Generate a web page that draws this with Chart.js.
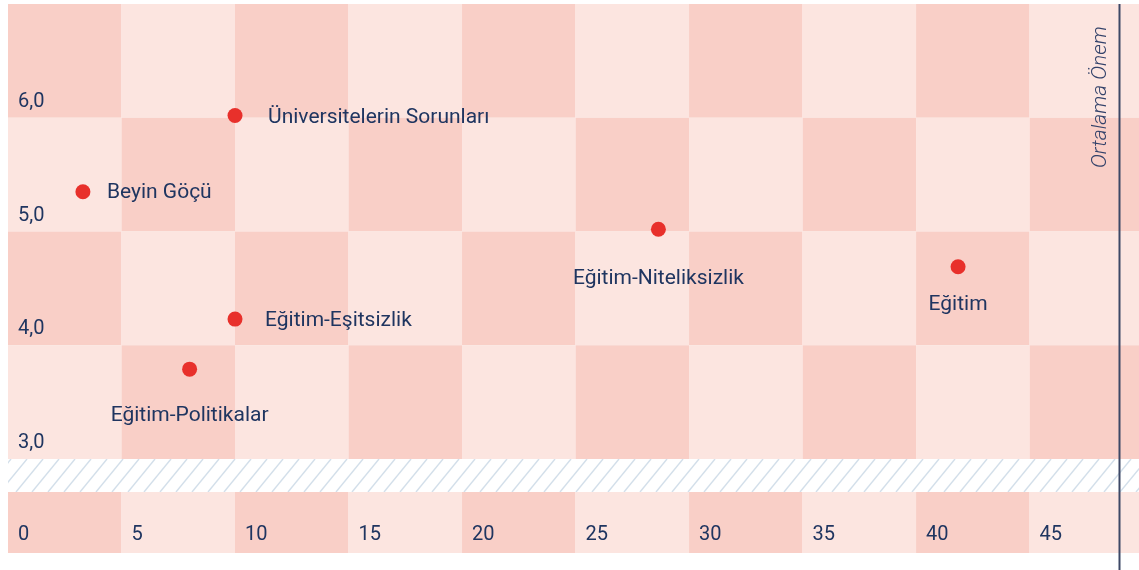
<!DOCTYPE html>
<html>
<head>
<meta charset="utf-8">
<script src="https://cdn.jsdelivr.net/npm/chart.js@4.4.1/dist/chart.umd.min.js"></script>
<style>
  html, body { margin: 0; padding: 0; background: #fff; }
</style>
</head>
<body>
<canvas id="gundem" width="1139" height="570"></canvas>
<script>
// topics: how often mentioned (x) vs. how important (y)
const topics = ['Beyin Göçü', 'Üniversitelerin Sorunları', 'Eğitim-Eşitsizlik', 'Eğitim-Politikalar', 'Eğitim-Niteliksizlik', 'Eğitim'];
const frequency = [3.3, 10.0, 10.0, 8.0, 28.65, 41.85];
const importance = [5.35, 6.02, 4.23, 3.79, 5.02, 4.69];
const xTicks = [0, 5, 10, 15, 20, 25, 30, 35, 40, 45];
const yTicks = [3, 4, 5, 6];
const averageLine = 49;
const averageLabel = 'Ortalama Önem';

// where each name sits next to its dot: [side, dx, dy] in px
const labelPlace = [
  ['right', 24, 6.6],
  ['right', 33, 7.3],
  ['right', 30, 7.4],
  ['below', 0, 51.4],
  ['below', 0, 55],
  ['below', 0, 43.7]
];

const DARK = '#f9cfc7';
const LIGHT = '#fce5e0';
const INK = '#1f3560';
const DOT = '#e8302b';

// drop the extra room Chart.js reserves around tick labels
function noPad(s) {
  s.paddingLeft = 0;
  s.paddingRight = 0;
  s.paddingTop = 0;
  s.paddingBottom = 0;
}

const boardPlugin = {
  id: 'board',
  beforeDraw(chart) {
    const { ctx, chartArea: a, scales: { x, y } } = chart;
    ctx.save();
    // checkerboard behind the plot, 5 units wide, 1 unit tall
    ctx.beginPath();
    ctx.rect(a.left, a.top, a.right - a.left, a.bottom - a.top);
    ctx.clip();
    for (let i = 0; i * 5 < x.max; i++) {
      const x0 = x.getPixelForValue(i * 5);
      const x1 = x.getPixelForValue(i * 5 + 5);
      for (let j = 0; y.max - j > y.min; j++) {
        const y0 = y.getPixelForValue(y.max - j);
        const y1 = y.getPixelForValue(y.max - j - 1);
        ctx.fillStyle = (i + j) % 2 === 0 ? DARK : LIGHT;
        ctx.fillRect(x0, y0, x1 - x0, y1 - y0);
      }
    }
    ctx.restore();

    // hatched break under the plot
    const bandTop = a.bottom;
    const bandBottom = a.bottom + 33;
    ctx.save();
    ctx.beginPath();
    ctx.rect(a.left, bandTop, a.right - a.left, bandBottom - bandTop);
    ctx.clip();
    ctx.fillStyle = '#fff';
    ctx.fillRect(a.left, bandTop, a.right - a.left, bandBottom - bandTop);
    ctx.strokeStyle = '#d3dfea';
    ctx.lineWidth = 1.4;
    for (let sx = a.left - 40; sx < a.right + 40; sx += 16) {
      ctx.beginPath();
      ctx.moveTo(sx, bandBottom);
      ctx.lineTo(sx + 27, bandTop);
      ctx.stroke();
    }
    ctx.restore();

    // strip carrying the x tick labels
    const stripTop = bandBottom;
    const stripBottom = bandBottom + 61;
    ctx.save();
    ctx.beginPath();
    ctx.rect(a.left, stripTop, a.right - a.left, stripBottom - stripTop);
    ctx.clip();
    for (let i = 0; i * 5 < x.max; i++) {
      const x0 = x.getPixelForValue(i * 5);
      const x1 = x.getPixelForValue(i * 5 + 5);
      ctx.fillStyle = i % 2 === 0 ? DARK : LIGHT;
      ctx.fillRect(x0, stripTop, x1 - x0, stripBottom - stripTop);
    }
    ctx.restore();
  },
  afterDatasetsDraw(chart) {
    const { ctx, chartArea: a, scales: { x } } = chart;
    // average line with its rotated caption
    const lx = Math.round(x.getPixelForValue(averageLine)) - 0.5;
    ctx.save();
    ctx.strokeStyle = '#3d4866';
    ctx.lineWidth = 2;
    ctx.beginPath();
    ctx.moveTo(lx, a.top);
    ctx.lineTo(lx, chart.height);
    ctx.stroke();

    ctx.translate(lx - 14, a.top + 164);
    ctx.rotate(-Math.PI / 2);
    ctx.fillStyle = '#33426a';
    ctx.font = 'italic 300 21px Roboto';
    ctx.textAlign = 'left';
    ctx.textBaseline = 'alphabetic';
    ctx.fillText(averageLabel, 0, 0);
    ctx.restore();

    // topic names
    const meta = chart.getDatasetMeta(0);
    ctx.save();
    ctx.fillStyle = INK;
    ctx.font = '21px Roboto';
    ctx.textBaseline = 'alphabetic';
    meta.data.forEach((pt, i) => {
      const [side, dx, dy] = labelPlace[i];
      ctx.textAlign = side === 'right' ? 'left' : 'center';
      ctx.fillText(topics[i], pt.x + dx, pt.y + dy);
    });
    ctx.restore();
  }
};

new Chart(document.getElementById('gundem'), {
  type: 'scatter',
  data: {
    datasets: [{
      data: frequency.map((v, i) => ({ x: v, y: importance[i] })),
      backgroundColor: DOT,
      borderWidth: 0,
      pointRadius: 7.5,
      pointHoverRadius: 7.5
    }]
  },
  options: {
    responsive: false,
    animation: false,
    devicePixelRatio: 1,
    layout: { autoPadding: false, padding: { top: 4, right: 0, bottom: 23, left: 0 } },
    plugins: { legend: { display: false }, tooltip: { enabled: false } },
    scales: {
      x: {
        type: 'linear',
        min: 0,
        max: 49.82,
        grid: { display: false, drawTicks: false },
        border: { display: false },
        afterBuildTicks: s => { s.ticks = xTicks.map(v => ({ value: v })); },
        afterFit: s => { noPad(s); s.height = 88; },
        ticks: {
          align: 'start',
          labelOffset: 10,
          padding: 64,
          color: INK,
          font: { family: 'Roboto', size: 20 },
          maxRotation: 0,
          autoSkip: false
        }
      },
      y: {
        type: 'linear',
        position: 'left',
        min: 3,
        max: 7,
        grid: { display: false, drawTicks: false },
        border: { display: false },
        afterBuildTicks: s => { s.ticks = yTicks.map(v => ({ value: v })); },
        afterFit: s => { noPad(s); s.width = 8; },
        ticks: {
          mirror: true,
          padding: 10,
          labelOffset: -16,
          color: INK,
          font: { family: 'Roboto', size: 20 },
          callback: v => v.toFixed(1).replace('.', ',')
        }
      }
    }
  },
  plugins: [boardPlugin]
});
</script>
</body>
</html>
